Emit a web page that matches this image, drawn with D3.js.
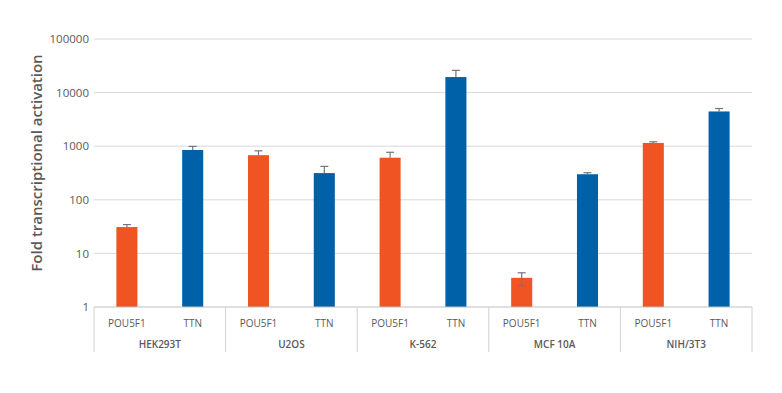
<!DOCTYPE html>
<html>
<head>
<meta charset="utf-8">
<script src="https://cdn.jsdelivr.net/npm/d3@7"></script>
<style>
  body { margin: 0; background: #fff; }
  svg text { font-family: "Open Sans", "Liberation Sans", sans-serif; fill: #595959; }
</style>
</head>
<body>
<div id="chart"></div>
<script>
// cell lines and genes
const cellLines = ['HEK293T', 'U2OS', 'K-562', 'MCF 10A', 'NIH/3T3'];
const genes = ['POU5F1', 'TTN'];
// fold activation, one value per cell line
const pou5f1Values = [31, 680, 610, 3.5, 1150];
const ttnValues = [850, 315, 19500, 300, 4450];
// error bars (upper / lower); most lower bars are hidden in the picture
const pou5f1ErrUp = [3.5, 140, 160, 0.85, 60];
const pou5f1ErrDown = [0, 0, 0, 1.0, 0];
const ttnErrUp = [140, 105, 6500, 20, 600];
const ttnErrDown = [0, 0, 0, 0, 0];
const yTicks = [1, 10, 100, 1000, 10000, 100000];

const colors = { POU5F1: '#F05423', TTN: '#0061A8' };

const width = 782, height = 393;
const margin = { top: 39, right: 30, bottom: 86, left: 94 };
const innerW = 752 - margin.left;
const innerH = 307 - margin.top;

const svg = d3.select('#chart').append('svg')
    .attr('width', width)
    .attr('height', height);

const chart = svg.append('g')
    .attr('transform', `translate(${margin.left},${margin.top})`);

const y = d3.scaleLog()
    .domain([1, 100000])
    .range([innerH, 0]);

const x0 = d3.scaleBand()
    .domain(cellLines)
    .range([0, innerW]);

const x1 = d3.scaleBand()
    .domain(genes)
    .range([0, x0.bandwidth()]);

const barW = x1.bandwidth() * 0.32;

// gridlines
chart.selectAll('.grid')
    .data(yTicks.slice(1))
    .enter()
    .append('line')
    .attr('x1', 0)
    .attr('x2', innerW)
    .attr('y1', d => y(d))
    .attr('y2', d => y(d))
    .attr('stroke', '#d9d9d9')
    .attr('stroke-width', 1);

// y axis labels
const yAxis = d3.axisLeft(y)
    .tickValues(yTicks)
    .tickFormat(d3.format('d'))
    .tickSize(0)
    .tickPadding(5);
chart.append('g')
    .call(yAxis)
    .call(g => g.select('.domain').remove())
    .selectAll('text')
    .style('font-size', '11.5px')
    .attr('fill', '#595959');

chart.append('text')
    .attr('transform', `translate(${37 - margin.left},${163 - margin.top}) rotate(-90)`)
    .attr('text-anchor', 'middle')
    .attr('dy', '0.35em')
    .style('font-size', '15px')
    .style('font-weight', 600)
    .text('Fold transcriptional activation');

// bars
const rows = [];
cellLines.forEach((c, i) => {
    rows.push({ cell: c, gene: 'POU5F1', value: pou5f1Values[i], up: pou5f1ErrUp[i], down: pou5f1ErrDown[i] });
    rows.push({ cell: c, gene: 'TTN', value: ttnValues[i], up: ttnErrUp[i], down: ttnErrDown[i] });
});

const bx = d => x0(d.cell) + x1(d.gene) + x1.bandwidth() / 2;

chart.selectAll('.bar')
    .data(rows)
    .enter()
    .append('rect')
    .attr('class', 'bar')
    .attr('x', d => bx(d) - barW / 2)
    .attr('y', d => y(d.value))
    .attr('width', barW)
    .attr('height', d => innerH - y(d.value))
    .attr('fill', d => colors[d.gene]);

// error bars
const errG = chart.selectAll('.err')
    .data(rows)
    .enter()
    .append('g')
    .attr('class', 'err')
    .attr('stroke', '#767676')
    .attr('stroke-width', 1.2);
errG.append('line')
    .attr('x1', bx).attr('x2', bx)
    .attr('y1', d => y(d.value + d.up))
    .attr('y2', d => y(d.value - d.down));
errG.append('line')
    .attr('x1', d => bx(d) - 4).attr('x2', d => bx(d) + 4)
    .attr('y1', d => y(d.value + d.up))
    .attr('y2', d => y(d.value + d.up));
errG.filter(d => d.down > 0).append('line')
    .attr('x1', d => bx(d) - 4).attr('x2', d => bx(d) + 4)
    .attr('y1', d => y(d.value - d.down))
    .attr('y2', d => y(d.value - d.down));

// x axis line
chart.append('line')
    .attr('x1', 0).attr('x2', innerW)
    .attr('y1', innerH).attr('y2', innerH)
    .attr('stroke', '#bfbfbf');

// group separators
const bounds = cellLines.map(c => x0(c)).concat([innerW]);
chart.selectAll('.sep')
    .data(bounds)
    .enter()
    .append('line')
    .attr('x1', d => d).attr('x2', d => d)
    .attr('y1', innerH).attr('y2', innerH + 45)
    .attr('stroke', '#d0d0d0');

// gene labels
chart.selectAll('.gene-label')
    .data(rows)
    .enter()
    .append('text')
    .attr('x', bx)
    .attr('y', innerH + 16)
    .attr('dy', '0.35em')
    .attr('text-anchor', 'middle')
    .style('font-size', '10px')
    .text(d => d.gene);

// cell line labels
chart.selectAll('.cell-label')
    .data(cellLines)
    .enter()
    .append('text')
    .attr('x', d => x0(d) + x0.bandwidth() / 2)
    .attr('y', innerH + 37)
    .attr('dy', '0.35em')
    .attr('text-anchor', 'middle')
    .style('font-size', '10px')
    .style('font-weight', 600)
    .text(d => d);
</script>
</body>
</html>
